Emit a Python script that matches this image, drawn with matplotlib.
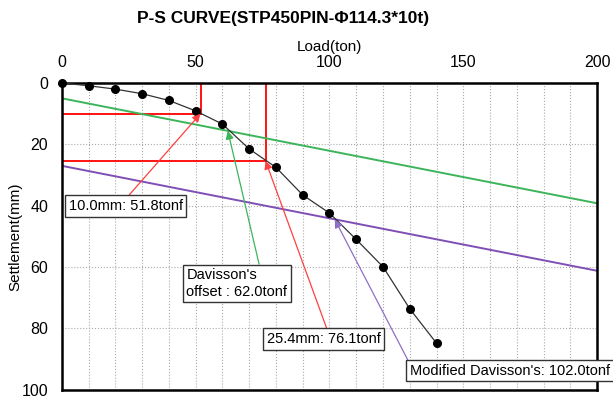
import numpy as np
import matplotlib.pyplot as plt

plt.rcParams['font.family'] = ['Liberation Sans Narrow', 'Liberation Sans', 'DejaVu Sans']

# load test readings
load_ton = [0, 10, 20, 30, 40, 50, 60, 70, 80, 90, 100, 110, 120, 130, 140]
settle_mm = [0, 0.9, 2.0, 3.5, 5.7, 9.1, 13.4, 21.5, 27.5, 36.5, 42.4, 51.0, 59.9, 73.6, 84.8]

# offset lines (settlement at load 0 and at load 200)
davisson_line = [5.0, 39.2]
mod_davisson_line = [27.0, 61.2]
line_ends = [0, 200]

# criteria results: (load, settlement)
crit_10mm = (51.8, 10.0)
crit_254mm = (76.1, 25.4)
davisson_pt = (62.0, 15.6)
mod_davisson_pt = (102.0, 44.5)

fig = plt.figure(figsize=(6.13, 3.99), dpi=100)
ax = fig.add_axes([0.101, 0.023, 0.873, 0.769])

ax.set_xlim(0, 200)
ax.set_ylim(100, 0)
ax.xaxis.tick_top()
ax.xaxis.set_label_position('top')
ax.set_xticks([0, 50, 100, 150, 200])
ax.set_yticks([0, 20, 40, 60, 80, 100])
ax.set_xticks(np.arange(0, 201, 10), minor=True)
ax.tick_params(which='both', length=0, labelsize=11.5)
ax.tick_params(axis='x', pad=9)
ax.tick_params(axis='y', pad=10)
ax.grid(which='both', axis='x', color='#aaaaaa', linestyle=':', linewidth=0.8)
ax.grid(which='major', axis='y', color='#aaaaaa', linestyle=':', linewidth=0.8)
for s in ax.spines.values():
    s.set_linewidth(1.8)

ax.set_xlabel('Load(ton)', fontsize=11, labelpad=3)
ax.set_ylabel('Settlement(mm)', fontsize=11, labelpad=-1)
fig.suptitle('P-S CURVE(STP450PIN-Φ114.3*10t)', fontsize=12.5, fontweight='bold',
             x=0.462, y=0.972)

# criterion guide lines
for p, s in [crit_10mm, crit_254mm]:
    ax.plot([0, p], [s, s], color='red', lw=1.3)
    ax.plot([p, p], [0, s], color='red', lw=1.3)

ax.plot(line_ends, davisson_line, color='#3cb55a', lw=1.4)
ax.plot(line_ends, mod_davisson_line, color='#7f4fb5', lw=1.4)

ax.plot(load_ton, settle_mm, color='#333333', lw=0.9, marker='o', ms=5.5,
        markerfacecolor='black', markeredgecolor='black', clip_on=False, zorder=5)

box = dict(boxstyle='square,pad=0.25', fc='white', ec='#333333', lw=1.0)


def note(text, tip, txt_pos, color, rel):
    ax.annotate(text, xy=tip, xytext=txt_pos, fontsize=10.5, ha='left', va='top',
                bbox=box, annotation_clip=False, zorder=6,
                arrowprops=dict(arrowstyle='-|>', color=color, lw=0.9,
                                mutation_scale=12, shrinkA=0, shrinkB=0,
                                relpos=rel))


note('10.0mm: 51.8tonf', crit_10mm, (2.5, 37.8), '#ff4040', (0.5, 1))
note("Davisson's\noffset : 62.0tonf", davisson_pt, (46.5, 60.4), '#3cb55a', (0.73, 1))
note('25.4mm: 76.1tonf', crit_254mm, (76.5, 81.2), '#ff4040', (0.54, 1))
note("Modified Davisson's: 102.0tonf", mod_davisson_pt, (130.0, 91.5), '#8f6fc5', (0, 1))

fig.savefig('out.png', dpi=100)
